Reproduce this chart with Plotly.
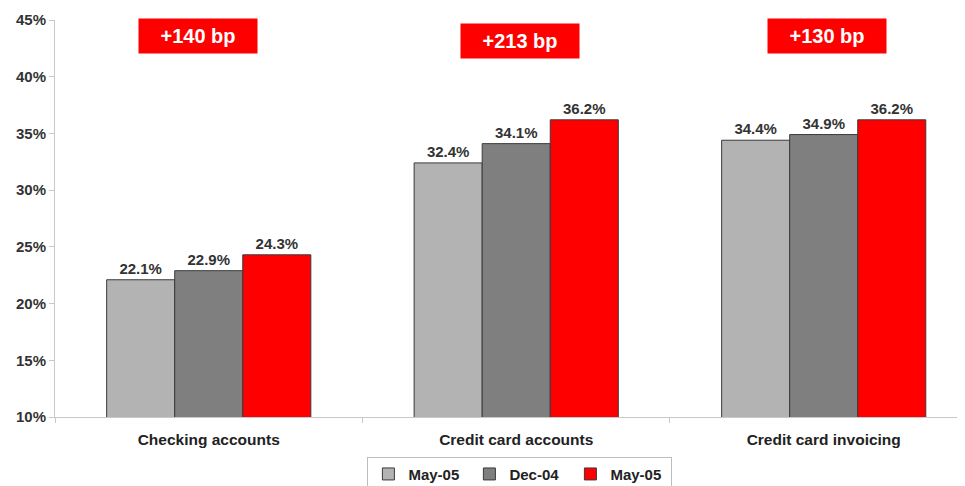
import plotly.graph_objects as go

# categories and series
categories = ['Checking accounts', 'Credit card accounts', 'Credit card invoicing']
series_names = ['May-05', 'Dec-04', 'May-05']
may05_prev = [22.1, 32.4, 34.4]
dec04 = [22.9, 34.1, 34.9]
may05 = [24.3, 36.2, 36.2]
bp_labels = ['+140 bp', '+213 bp', '+130 bp']
bp_y = [43.6, 43.15, 43.6]
bp_x = [-0.035, 1.013, 2.01]

colors = ['#b3b3b3', '#7f7f7f', '#ff0000']
font_family = 'Liberation Sans, Arial, sans-serif'

fig = go.Figure()

for name, vals, col in zip(series_names, [may05_prev, dec04, may05], colors):
    fig.add_trace(go.Bar(
        x=categories, y=vals,
        name=f'<b>{name}</b>',
        marker=dict(color=col, line=dict(color='#3a3a3a', width=1)),
        texttemplate='<b>%{y:.1f}%</b>',
        textposition='outside',
        textfont=dict(size=15, color='#333333', family=font_family),
        cliponaxis=False,
    ))

# red "bp" boxes above each group
for i, lab in enumerate(bp_labels):
    fig.add_annotation(
        x=bp_x[i], y=bp_y[i], xref='x', yref='y',
        text=f'<b>{lab}</b>', showarrow=False,
        font=dict(size=20, color='white', family=font_family),
        bgcolor='#ff0000', width=110, height=26, borderpad=4,
    )

# the page body adds an 8px offset, margins account for it
fig.update_layout(
    width=965, height=486,
    margin=dict(l=47, r=10, t=12, b=77, autoexpand=False),
    paper_bgcolor='white', plot_bgcolor='white',
    barmode='group', bargap=0.336, bargroupgap=0,
    font=dict(family=font_family, color='#333333'),
    showlegend=True,
    legend=dict(
        orientation='h', x=0.512, xanchor='center', y=-0.1, yanchor='top',
        bordercolor='#bdbdbd', borderwidth=1,
        font=dict(size=15, color='#222222', family=font_family),
        itemwidth=30, tracegroupgap=0, entrywidth=56, entrywidthmode='pixels',
    ),
    xaxis=dict(
        range=[-0.5, 2.453], automargin=False,
        showline=True, linecolor='#c8c8c8', linewidth=1,
        ticks='outside', tickson='boundaries', ticklen=5, tickcolor='#c8c8c8',
        tickfont=dict(size=15.5, color='#222222', family=font_family),
        ticklabelstandoff=8,
        tickprefix='<b>', ticksuffix='</b>',
    ),
    yaxis=dict(
        range=[10, 45], dtick=5, automargin=False,
        showgrid=False, zeroline=False,
        showline=True, linecolor='#c8c8c8', linewidth=1,
        ticks='outside', ticklen=5, tickcolor='#c8c8c8',
        tickprefix='<b>', ticksuffix='%</b>',
        tickfont=dict(size=15, color='#333333', family=font_family),
    ),
)

fig.write_html('out.html')
